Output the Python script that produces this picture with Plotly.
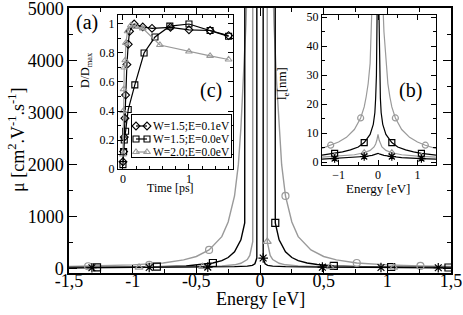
import plotly.graph_objects as go

W, H = 463, 315
FONT = "Liberation Serif, Times New Roman, Times, serif"
GRAY = "#9a9a9a"
BLACK = "#000000"

# ---------------- main panel (a): mobility vs energy ----------------
E_circ = [-1.5, -1.26, -1.0, -0.76, -0.6, -0.5, -0.4, -0.3, -0.25, -0.2, -0.17, -0.15, -0.13, -0.11, -0.09, 0,
          0.09, 0.11, 0.13, 0.15, 0.17, 0.2, 0.25, 0.3, 0.4, 0.5, 0.6, 0.76, 1.0, 1.26, 1.5]
mu_circ = [48, 58, 78, 115, 175, 240, 365, 620, 900, 1400, 2000, 2700, 3600, 4700, 6500, 1000000,
           6500, 4700, 3600, 2700, 2000, 1400, 900, 620, 365, 240, 175, 115, 78, 58, 48]

E_sq = [-1.5, -1.28, -1.03, -0.81, -0.58, -0.45, -0.37, -0.3, -0.25, -0.2, -0.15, -0.12, 0,
        0.12, 0.15, 0.2, 0.25, 0.3, 0.37, 0.45, 0.58, 0.81, 1.03, 1.28, 1.5]
mu_sq = [28, 31, 38, 45, 58, 85, 115, 160, 220, 330, 560, 885, 1000000,
         885, 560, 330, 220, 160, 115, 85, 58, 45, 38, 31, 28]

E_tri = [-1.5, -1.25, -1.0, -0.75, -0.5, -0.3, -0.2, -0.15, -0.1, -0.08, -0.057, 0,
         0.057, 0.08, 0.1, 0.15, 0.2, 0.3, 0.5, 0.75, 1.0, 1.25, 1.5]
mu_tri = [25, 27, 30, 35, 42, 60, 80, 110, 180, 260, 525, 1000000,
          525, 260, 180, 110, 80, 60, 42, 35, 30, 27, 25]

E_star = [-1.5, -1.32, -1.1, -0.87, -0.65, -0.41, -0.2, -0.1, -0.06, -0.04, -0.025, 0,
          0.025, 0.04, 0.06, 0.1, 0.2, 0.49, 0.7, 0.95, 1.15, 1.4, 1.5]
mu_star = [22, 24, 26, 28, 31, 36, 45, 55, 70, 100, 210, 1000000,
           210, 100, 70, 55, 45, 35, 31, 28, 26, 24, 22]

# marker positions
mE_circ = [-1.35, -0.87, -0.4, 0.2, 0.76, 1.26]
mmu_circ = [52, 80, 365, 1400, 115, 58]
mE_sq = [-1.28, -0.81, -0.37, 0.12, 0.58, 1.03, 1.48]
mmu_sq = [31, 45, 115, 885, 58, 38, 28]
mE_tri = [-0.95, -0.45, 0.057, 0.55, 1.05]
mmu_tri = [30, 44, 525, 40, 29]
mE_star = [-1.32, -0.87, -0.41, 0.025, 0.49, 0.95, 1.4]
mmu_star = [24, 28, 36, 210, 35, 28, 24]

x_main_ticks = [-1.5, -1, -0.5, 0, 0.5, 1, 1.5]
x_main_text = ["-1,5", "-1", "-0,5", "0", "0,5", "1", "1,5"]

# ---------------- inset (c): D/Dmax vs time ----------------
t_dia = [0, 0.01, 0.02, 0.03, 0.04, 0.06, 0.08, 0.1, 0.17, 0.3, 0.44, 0.72, 1.0, 1.32, 1.6]
v_dia = [0.05, 0.12, 0.22, 0.35, 0.51, 0.72, 0.86, 0.95, 1.0, 0.98, 0.97, 0.977, 0.96, 0.955, 0.92]
t_sqc = [0, 0.01, 0.02, 0.04, 0.08, 0.18, 0.32, 0.485, 0.71, 1.0, 1.32, 1.6]
v_sqc = [0.03, 0.12, 0.2, 0.26, 0.41, 0.58, 0.8, 0.91, 0.985, 1.0, 0.955, 0.915]
t_trc = [0, 0.005, 0.01, 0.02, 0.035, 0.045, 0.07, 0.12, 0.2, 0.3, 0.56, 1.0, 1.32, 1.6]
v_trc = [0.1, 0.4, 0.55, 0.7, 0.75, 0.87, 0.95, 0.99, 0.98, 0.97, 0.855, 0.81, 0.78, 0.755]
leg_names = ["W=1.5;E=0.1eV", "W=1.5;E=0.0eV", "W=2.0;E=0.0eV"]

# ---------------- inset (b): l_e vs energy ----------------
Eb_circ = [-1.42, -1.2, -1.0, -0.8, -0.6, -0.44, -0.35, -0.3, -0.25, -0.2, -0.15, -0.12, -0.08, 0,
           0.08, 0.12, 0.15, 0.2, 0.25, 0.3, 0.35, 0.44, 0.6, 0.8, 1.0, 1.2, 1.47]
l_circ = [4.7, 5.8, 6.9, 8.5, 11.2, 15.2, 19, 22.5, 27, 34, 45, 56, 85, 300,
          85, 56, 45, 34, 27, 22.5, 19, 15.2, 11.2, 8.5, 6.9, 5.8, 4.6]
Eb_sq = [-1.42, -1.1, -0.9, -0.7, -0.5, -0.35, -0.2, -0.12, -0.08, -0.06, -0.04, -0.02, 0,
         0.02, 0.04, 0.06, 0.08, 0.12, 0.2, 0.35, 0.5, 0.7, 0.9, 1.1, 1.47]
l_sq = [2.4, 3.0, 3.5, 4.2, 5.2, 6.7, 9.5, 13, 17, 22, 30, 55, 200,
        55, 30, 22, 17, 13, 9.5, 6.7, 5.2, 4.2, 3.5, 3.0, 2.4]
Eb_tri = [-1.42, -1.0, -0.6, -0.35, -0.2, -0.1, -0.06, -0.03, 0, 0.03, 0.06, 0.1, 0.2, 0.35, 0.6, 1.0, 1.47]
l_tri = [1.7, 2.0, 2.5, 3.2, 4.0, 5.2, 6.2, 7.5, 9.5, 7.5, 6.2, 5.2, 4.0, 3.2, 2.5, 2.0, 1.7]
Eb_star = [-1.42, -1.1, -0.6, -0.35, -0.15, -0.05, 0, 0.05, 0.15, 0.35, 0.6, 1.1, 1.47]
l_star = [1.0, 1.2, 1.5, 1.9, 2.3, 2.7, 3.0, 2.7, 2.3, 1.9, 1.5, 1.2, 1.0]

mEb_circ = [-1.2, -0.44, 0.44, 1.2]
ml_circ = [5.8, 15.2, 15.2, 5.8]
mEb_sq = [-1.1, -0.35, 0.35, 1.1]
ml_sq = [3.0, 6.7, 6.7, 3.0]
mEb_tri = [-1.1, -0.35, 0.35, 1.1]
ml_tri = [1.9, 3.2, 3.2, 1.9]
mEb_star = [-1.1, -0.35, 0.35, 1.1]
ml_star = [1.2, 1.9, 1.9, 1.2]

# legend box layout (pixels): box, key sample span, row centres, text start
LEG_BOX = (132, 231, 115, 157)
LEG_KEY = (136, 147)
LEG_ROWS = (126, 139, 152)
LEG_TEXT_X = 151


def px(x):
    return x / W


def py(y):
    return 1 - y / H


fig = go.Figure()


def add_line(x, y, color, xa, ya, width=1.4):
    fig.add_trace(go.Scatter(x=x, y=y, mode="lines", line=dict(color=color, width=width),
                             xaxis=xa, yaxis=ya, showlegend=False, hoverinfo="skip"))


def add_marks(x, y, color, symbol, size, xa, ya):
    fig.add_trace(go.Scatter(x=x, y=y, mode="markers",
                             marker=dict(symbol=symbol, size=size, color=color,
                                         line=dict(color=color, width=1.2)),
                             xaxis=xa, yaxis=ya, showlegend=False, hoverinfo="skip", cliponaxis=False))


# main
add_line(E_circ, mu_circ, GRAY, "x", "y")
add_line(E_sq, mu_sq, BLACK, "x", "y")
add_line(E_tri, mu_tri, GRAY, "x", "y")
add_line(E_star, mu_star, BLACK, "x", "y")
add_marks(mE_circ, mmu_circ, GRAY, "circle-open", 7, "x", "y")
add_marks(mE_sq, mmu_sq, BLACK, "square-open", 7, "x", "y")
add_marks(mE_tri, mmu_tri, GRAY, "triangle-up-open", 7, "x", "y")
add_marks(mE_star, mmu_star, BLACK, "asterisk-open", 8, "x", "y")

# inset b
add_line(Eb_circ, l_circ, GRAY, "x3", "y3", 1.2)
add_line(Eb_sq, l_sq, BLACK, "x3", "y3", 1.2)
add_line(Eb_tri, l_tri, GRAY, "x3", "y3", 1.2)
add_line(Eb_star, l_star, BLACK, "x3", "y3", 1.2)
add_marks(mEb_circ, ml_circ, GRAY, "circle-open", 6, "x3", "y3")
add_marks(mEb_sq, ml_sq, BLACK, "square-open", 6, "x3", "y3")
add_marks(mEb_tri, ml_tri, GRAY, "triangle-up-open", 6, "x3", "y3")
add_marks(mEb_star, ml_star, BLACK, "asterisk-open", 7, "x3", "y3")

# inset c
styles_c = [(BLACK, "diamond-open"), (BLACK, "square-open"), (GRAY, "triangle-up-open")]
for (t, v), (col, sym), name in zip([(t_dia, v_dia), (t_sqc, v_sqc), (t_trc, v_trc)], styles_c, leg_names):
    fig.add_trace(go.Scatter(x=t, y=v, mode="lines+markers", name=name,
                             line=dict(color=col, width=1.2),
                             marker=dict(symbol=sym, size=6, color=col, line=dict(color=col, width=1.1)),
                             xaxis="x2", yaxis="y2", hoverinfo="skip", showlegend=False, cliponaxis=False))

# legend of inset c (drawn in its own small frame)
for (col, sym), row in zip(styles_c, LEG_ROWS):
    fig.add_trace(go.Scatter(x=list(LEG_KEY), y=[row, row], mode="lines+markers",
                             line=dict(color=col, width=1.2),
                             marker=dict(symbol=sym, size=6, color=col, line=dict(color=col, width=1.1)),
                             xaxis="x4", yaxis="y4", hoverinfo="skip", showlegend=False, cliponaxis=False))


def axis(domain, rng, dtick, minor_dtick, tlen, fsize, lw=1.4, anchor=None, **kw):
    d = dict(domain=domain, range=rng, showline=True, linecolor=BLACK, linewidth=lw, mirror="allticks",
             ticks="inside", ticklen=tlen, tickwidth=1.2, tickcolor=BLACK, showgrid=False, zeroline=False,
             tickfont=dict(family=FONT, size=fsize, color=BLACK), fixedrange=True, automargin=False,
             ticklabeloverflow="allow",
             minor=dict(ticks="inside", ticklen=tlen * 0.5, tickwidth=1.1, tickcolor=BLACK,
                        tickmode="linear", tick0=0, dtick=minor_dtick, showgrid=False))
    if dtick is not None:
        d["dtick"] = dtick
        d["tick0"] = 0
    if anchor:
        d["anchor"] = anchor
    d.update(kw)
    return d


frame = dict(showline=True, linecolor=BLACK, linewidth=1.2, mirror=True, ticks="",
             showticklabels=False, showgrid=False, zeroline=False, fixedrange=True, automargin=False)

fig.update_layout(
    width=W, height=H, margin=dict(l=0, r=0, t=0, b=0, autoexpand=False),
    paper_bgcolor="white", plot_bgcolor="white",
    font=dict(family=FONT, color=BLACK),
    showlegend=False,
    xaxis=axis([px(69), px(451)], [-1.5, 1.5], None, 0.25, 8, 18, lw=1.5, anchor="y",
               tickmode="array", tickvals=x_main_ticks, ticktext=x_main_text, ticklabelstandoff=-9),
    yaxis=axis([py(273), py(8)], [-77, 5004], 1000, 500, 8, 18, lw=1.5, anchor="x"),
    xaxis2=axis([px(118), px(233)], [-0.075, 1.667], 1, 0.2, 5, 12, lw=1.3, anchor="y2", ticklabelstandoff=-2),
    yaxis2=axis([py(169), py(15)], [0, 1.062], 0.2, 0.1, 5, 12, lw=1.3, anchor="x2"),
    xaxis3=axis([px(322), px(436)], [-1.42, 1.47], 1, 0.5, 5, 12, lw=1.3, anchor="y3", ticklabelstandoff=-2),
    yaxis3=axis([py(165), py(15)], [-1.03, 50.7], 10, 5, 5, 12, lw=1.3, anchor="x3"),
    xaxis4=dict(domain=[px(LEG_BOX[0]), px(LEG_BOX[1])], range=[LEG_BOX[0], LEG_BOX[1]], anchor="y4", **frame),
    yaxis4=dict(domain=[py(LEG_BOX[3]), py(LEG_BOX[2])], range=[LEG_BOX[3], LEG_BOX[2]], anchor="x4", **frame),
)


def ann(text, x, y, size, angle=0, xanchor="center"):
    fig.add_annotation(text=text, x=px(x), y=py(y), xref="paper", yref="paper",
                       showarrow=False, xanchor=xanchor, yanchor="middle", textangle=angle,
                       font=dict(family=FONT, size=size, color=BLACK))


ann("Energy [eV]", 260, 299, 18)
ann("μ [cm<sup>2</sup>.V<sup>-1</sup>.s<sup>-1</sup>]", 16, 140, 18, -90)
ann("Time [ps]", 170, 188, 12)
ann("D/D<sub>max</sub>", 86, 70, 12, -90)
ann("Energy [eV]", 378, 188, 13)
ann("l<sub>e</sub>[nm]", 283, 84, 13, -90)
ann("(a)", 87, 23, 20)
ann("(c)", 211, 90, 20)
ann("(b)", 410, 90, 20)
for name, row in zip(leg_names, LEG_ROWS):
    ann(name, LEG_TEXT_X, row, 11.5, xanchor="left")

fig.write_html("out.html", config={"displayModeBar": False},
               post_script="document.body.style.margin='0px';")
